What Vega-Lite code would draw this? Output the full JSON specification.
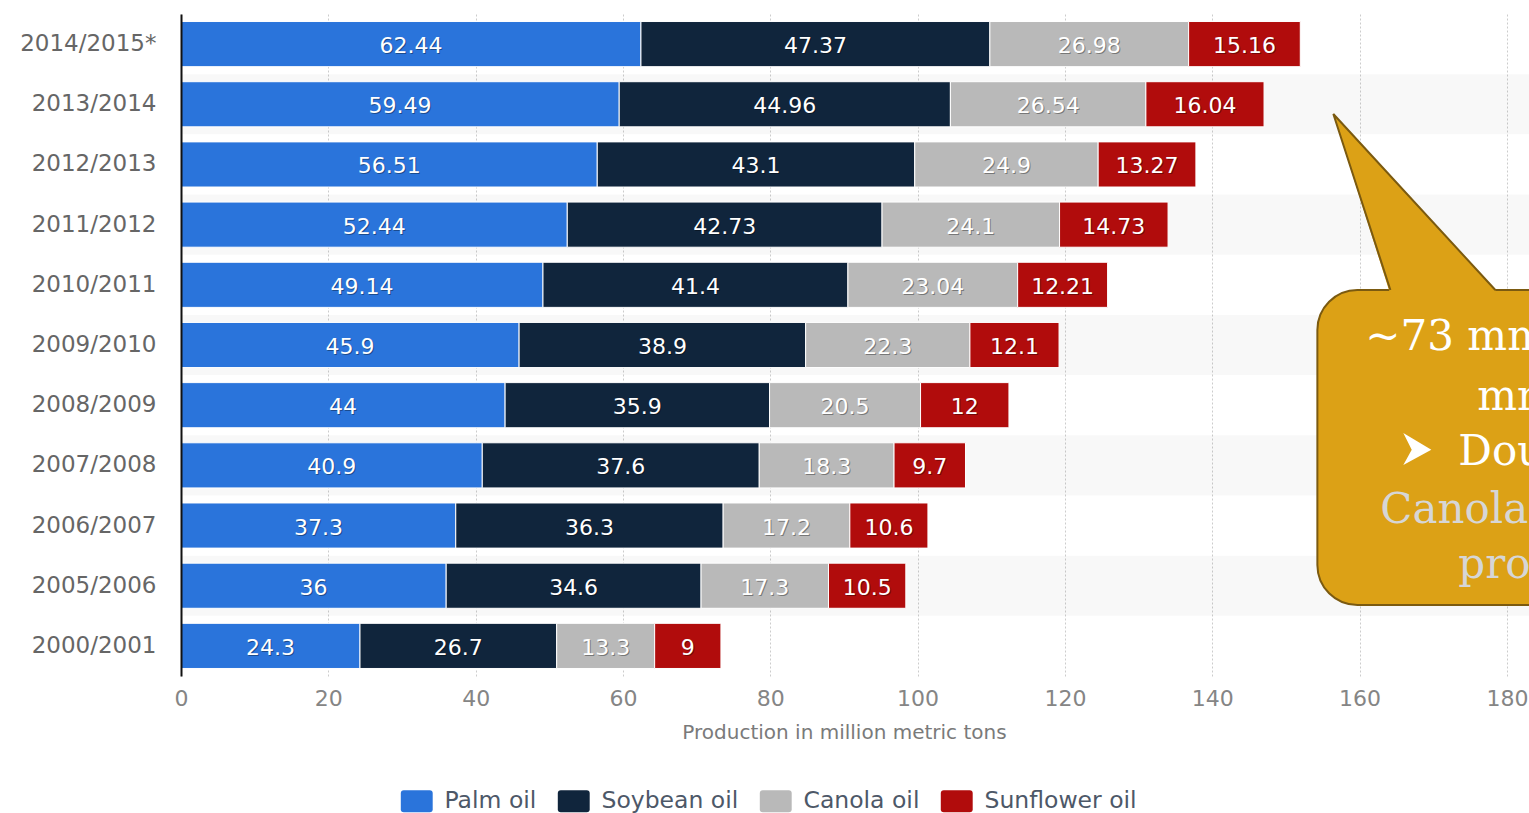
{
  "$schema": "https://vega.github.io/schema/vega-lite/v6.json",
  "autosize": {"type": "none"},
  "width": 1348,
  "height": 662,
  "padding": {"left": 181, "top": 14, "right": 0, "bottom": 137},
  "background": "white",
  "config": {"font": "DejaVu Sans", "view": {"stroke": null}},
  "datasets": {
    "oils": [
      {"season": "2014/2015*", "oil": "Palm oil", "value": 62.44},
      {"season": "2014/2015*", "oil": "Soybean oil", "value": 47.37},
      {"season": "2014/2015*", "oil": "Canola oil", "value": 26.98},
      {"season": "2014/2015*", "oil": "Sunflower oil", "value": 15.16},
      {"season": "2013/2014", "oil": "Palm oil", "value": 59.49},
      {"season": "2013/2014", "oil": "Soybean oil", "value": 44.96},
      {"season": "2013/2014", "oil": "Canola oil", "value": 26.54},
      {"season": "2013/2014", "oil": "Sunflower oil", "value": 16.04},
      {"season": "2012/2013", "oil": "Palm oil", "value": 56.51},
      {"season": "2012/2013", "oil": "Soybean oil", "value": 43.1},
      {"season": "2012/2013", "oil": "Canola oil", "value": 24.9},
      {"season": "2012/2013", "oil": "Sunflower oil", "value": 13.27},
      {"season": "2011/2012", "oil": "Palm oil", "value": 52.44},
      {"season": "2011/2012", "oil": "Soybean oil", "value": 42.73},
      {"season": "2011/2012", "oil": "Canola oil", "value": 24.1},
      {"season": "2011/2012", "oil": "Sunflower oil", "value": 14.73},
      {"season": "2010/2011", "oil": "Palm oil", "value": 49.14},
      {"season": "2010/2011", "oil": "Soybean oil", "value": 41.4},
      {"season": "2010/2011", "oil": "Canola oil", "value": 23.04},
      {"season": "2010/2011", "oil": "Sunflower oil", "value": 12.21},
      {"season": "2009/2010", "oil": "Palm oil", "value": 45.9},
      {"season": "2009/2010", "oil": "Soybean oil", "value": 38.9},
      {"season": "2009/2010", "oil": "Canola oil", "value": 22.3},
      {"season": "2009/2010", "oil": "Sunflower oil", "value": 12.1},
      {"season": "2008/2009", "oil": "Palm oil", "value": 44},
      {"season": "2008/2009", "oil": "Soybean oil", "value": 35.9},
      {"season": "2008/2009", "oil": "Canola oil", "value": 20.5},
      {"season": "2008/2009", "oil": "Sunflower oil", "value": 12},
      {"season": "2007/2008", "oil": "Palm oil", "value": 40.9},
      {"season": "2007/2008", "oil": "Soybean oil", "value": 37.6},
      {"season": "2007/2008", "oil": "Canola oil", "value": 18.3},
      {"season": "2007/2008", "oil": "Sunflower oil", "value": 9.7},
      {"season": "2006/2007", "oil": "Palm oil", "value": 37.3},
      {"season": "2006/2007", "oil": "Soybean oil", "value": 36.3},
      {"season": "2006/2007", "oil": "Canola oil", "value": 17.2},
      {"season": "2006/2007", "oil": "Sunflower oil", "value": 10.6},
      {"season": "2005/2006", "oil": "Palm oil", "value": 36},
      {"season": "2005/2006", "oil": "Soybean oil", "value": 34.6},
      {"season": "2005/2006", "oil": "Canola oil", "value": 17.3},
      {"season": "2005/2006", "oil": "Sunflower oil", "value": 10.5},
      {"season": "2000/2001", "oil": "Palm oil", "value": 24.3},
      {"season": "2000/2001", "oil": "Soybean oil", "value": 26.7},
      {"season": "2000/2001", "oil": "Canola oil", "value": 13.3},
      {"season": "2000/2001", "oil": "Sunflower oil", "value": 9}
    ],
    "stripes": [
      {"season": "2013/2014"}, {"season": "2011/2012"}, {"season": "2009/2010"},
      {"season": "2007/2008"}, {"season": "2005/2006"}
    ],
    "bubble": [{"x": 154.27, "x2": 200, "y": 4.586, "y2": 9.821}],
    "tail": [
      {"x": 156.44, "y": 1.662, "y2": 1.662},
      {"x": 164.18, "y": 2.691, "y2": 4.66},
      {"x": 178.43, "y": 4.586, "y2": 4.66}
    ],
    "tailEdge": [
      {"x": 164.18, "y": 4.586, "o": 1},
      {"x": 156.44, "y": 1.662, "o": 2},
      {"x": 178.43, "y": 4.586, "o": 3}
    ],
    "notesWhite": [
      {"t": "~73 mmt", "x": 160.78, "y": 5.583},
      {"t": "mmt", "x": 175.98, "y": 6.58},
      {"t": "Doubled", "x": 173.41, "y": 7.494}
    ],
    "notesArrow": [{"x": 167.84, "y": 7.228}],
    "notesGray": [
      {"t": "Canola oil", "x": 162.82, "y": 8.458},
      {"t": "production", "x": 173.41, "y": 9.372}
    ]
  },
  "layer": [
    {
      "data": {"name": "stripes"},
      "mark": {"type": "rect", "fill": "#000000", "opacity": 0.026},
      "encoding": {
        "y": {
          "field": "season", "type": "nominal",
          "scale": {
            "domain": ["2014/2015*", "2013/2014", "2012/2013", "2011/2012", "2010/2011", "2009/2010", "2008/2009", "2007/2008", "2006/2007", "2005/2006", "2000/2001"],
            "paddingInner": 0, "paddingOuter": 0
          },
          "axis": null
        },
        "x": {"datum": 0, "type": "quantitative", "scale": {"domain": [0, 183], "nice": false}},
        "x2": {"datum": 183}
      }
    },
    {
      "data": {"name": "oils"},
      "transform": [
        {"calculate": "indexof(['Palm oil','Soybean oil','Canola oil','Sunflower oil'], datum.oil)", "as": "k"},
        {"stack": "value", "groupby": ["season"], "sort": [{"field": "k", "order": "ascending"}], "as": ["v0", "v1"]},
        {"calculate": "(datum.v0 + datum.v1) / 2", "as": "mid"}
      ],
      "encoding": {
        "y": {
          "field": "season", "type": "nominal",
          "scale": {
            "domain": ["2014/2015*", "2013/2014", "2012/2013", "2011/2012", "2010/2011", "2009/2010", "2008/2009", "2007/2008", "2006/2007", "2005/2006", "2000/2001"],
            "paddingInner": 0.25, "paddingOuter": 0.125
          },
          "axis": {
            "title": null, "ticks": false, "grid": false, "zindex": 2,
            "domainColor": "#111111", "domainWidth": 2,
            "labelFontSize": 23, "labelColor": "#666666", "labelPadding": 25
          }
        }
      },
      "layer": [
        {
          "mark": {"type": "bar", "stroke": "white", "strokeWidth": 1},
          "encoding": {
            "x": {
              "field": "v0", "type": "quantitative",
              "scale": {"domain": [0, 183], "nice": false},
              "title": "Production in million metric tons",
              "axis": {
                "values": [0, 20, 40, 60, 80, 100, 120, 140, 160, 180],
                "grid": true, "gridColor": "#cccccc", "gridDash": [2, 2], "gridWidth": 1,
                "domain": false, "ticks": false, "labelFlush": false,
                "labelFontSize": 22, "labelColor": "#858585", "labelPadding": 12,
                "titleFontSize": 20, "titleFontWeight": "normal", "titleColor": "#7a7a7a",
                "titlePadding": 13, "titleX": 663
              }
            },
            "x2": {"field": "v1"},
            "color": {
              "field": "oil", "type": "nominal",
              "scale": {
                "domain": ["Palm oil", "Soybean oil", "Canola oil", "Sunflower oil"],
                "range": ["#2a74db", "#10253c", "#b9b9b9", "#b10c0c"]
              },
              "legend": {
                "orient": "none", "legendX": 224, "legendY": 775,
                "direction": "horizontal", "title": null,
                "symbolType": "M-1.18,-1H1.18Q1.45,-1 1.45,-0.73V0.73Q1.45,1 1.18,1H-1.18Q-1.45,1 -1.45,0.73V-0.73Q-1.45,-1 -1.18,-1Z",
                "symbolSize": 484, "symbolStrokeWidth": 0, "symbolOpacity": 1,
                "labelFontSize": 23.5, "labelColor": "#4d5868",
                "labelOffset": 16, "columnPadding": 20
              }
            }
          }
        },
        {
          "mark": {"type": "text", "fontSize": 22, "color": "#000000", "opacity": 0.35, "dx": 1, "dy": 3},
          "encoding": {
            "x": {"field": "mid", "type": "quantitative", "scale": {"domain": [0, 183], "nice": false}},
            "text": {"field": "value", "type": "quantitative", "format": ".2~f"}
          }
        },
        {
          "mark": {"type": "text", "fontSize": 22, "color": "#ffffff", "dy": 2},
          "encoding": {
            "x": {"field": "mid", "type": "quantitative", "scale": {"domain": [0, 183], "nice": false}},
            "text": {"field": "value", "type": "quantitative", "format": ".2~f"}
          }
        }
      ]
    },
    {
      "encoding": {
        "y": {"field": "y", "type": "quantitative", "scale": {"domain": [0, 11], "reverse": true, "nice": false, "zero": false}, "axis": null},
        "x": {"field": "x", "type": "quantitative", "scale": {"domain": [0, 183], "nice": false}}
      },
      "layer": [
        {
          "data": {"name": "bubble"},
          "mark": {"type": "rect", "fill": "#555555", "opacity": 0.35, "cornerRadius": 40, "xOffset": 2, "yOffset": 4},
          "encoding": {"x2": {"field": "x2"}, "y2": {"field": "y2"}}
        },
        {
          "data": {"name": "bubble"},
          "mark": {"type": "rect", "fill": "#dca116", "stroke": "#7b5a10", "strokeWidth": 2, "cornerRadius": 40},
          "encoding": {"x2": {"field": "x2"}, "y2": {"field": "y2"}}
        },
        {
          "data": {"name": "tail"},
          "mark": {"type": "area", "orient": "vertical", "fill": "#dca116", "interpolate": "linear"},
          "encoding": {"y2": {"field": "y2"}}
        },
        {
          "data": {"name": "tailEdge"},
          "mark": {"type": "line", "stroke": "#7b5a10", "strokeWidth": 2},
          "encoding": {"order": {"field": "o", "type": "quantitative"}}
        },
        {
          "data": {"name": "notesWhite"},
          "mark": {"type": "text", "font": "DejaVu Serif", "fontSize": 42, "color": "#ffffff", "align": "left", "baseline": "alphabetic"},
          "encoding": {"text": {"field": "t"}}
        },
        {
          "data": {"name": "notesArrow"},
          "mark": {"type": "point", "filled": true, "fill": "#ffffff", "opacity": 1, "size": 1024, "shape": "M-0.875,-1L0.875,0.05L-0.875,1L-0.35,0.05Z"},
          "encoding": {}
        },
        {
          "data": {"name": "notesGray"},
          "mark": {"type": "text", "font": "DejaVu Serif", "fontSize": 42, "color": "#d6d6d6", "align": "left", "baseline": "alphabetic"},
          "encoding": {"text": {"field": "t"}}
        }
      ]
    }
  ],
  "resolve": {"scale": {"y": "independent"}}
}
